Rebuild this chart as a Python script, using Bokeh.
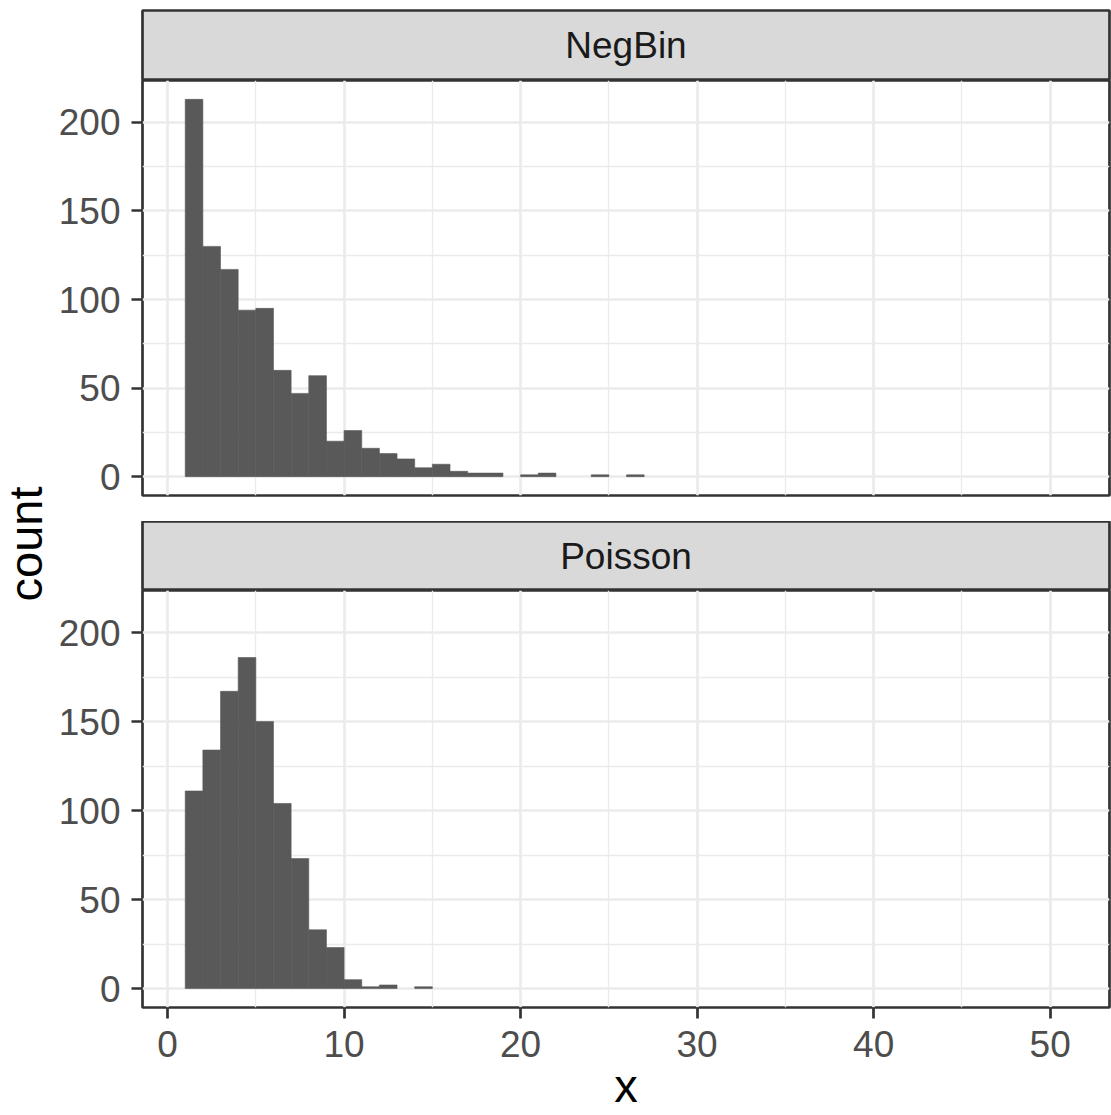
import math
from bokeh.plotting import figure
from bokeh.layouts import row, column
from bokeh.models import FixedTicker, Range1d, ColumnDataSource, Grid
from bokeh.core.properties import value
from bokeh.embed import file_html
from bokeh.resources import INLINE

# ---- data (histogram counts, binwidth 1, first bin starts at x = 1) ----
facet_labels = ["NegBin", "Poisson"]
negbin_counts = [213, 130, 117, 94, 95, 60, 47, 57, 20, 26, 16, 13, 10, 5, 7, 3,
                 2, 2, 0, 1, 2, 0, 0, 1, 0, 1]
poisson_counts = [111, 134, 167, 186, 150, 104, 73, 33, 23, 5, 1, 2, 0, 1]
bin_start = 1
bin_width = 1
x_ticks = [0, 10, 20, 30, 40, 50]
x_minor = [5, 15, 25, 35, 45]
y_ticks = [0, 50, 100, 150, 200]
y_minor = [25, 75, 125, 175]
x_title = "x"
y_title = "count"

FONT = "Liberation Sans"
GRID = "#EBEBEB"
DARK = "#333333"
BAR = "#595959"

LEFT_W = 54
FIG_W = 1111 - LEFT_W
MB_LEFT = 142 - LEFT_W
MB_RIGHT = 2

x_range = Range1d(-1.42, 53.36)
ymax = max(max(negbin_counts), max(poisson_counts))
y_range = Range1d(-0.05 * ymax, 1.05 * ymax)


def add_grids(p):
    p.center = [r for r in p.center if not isinstance(r, Grid)]
    gx = Grid(dimension=0, ticker=FixedTicker(ticks=x_ticks, minor_ticks=x_minor))
    gy = Grid(dimension=1, ticker=FixedTicker(ticks=y_ticks, minor_ticks=y_minor))
    for g in (gx, gy):
        g.grid_line_color = GRID
        g.grid_line_width = 2.7
        g.minor_grid_line_color = GRID
        g.minor_grid_line_width = 1.35
        p.add_layout(g, "center")


def style_axis(ax):
    ax.axis_line_color = None
    ax.major_tick_line_color = DARK
    ax.major_tick_line_width = 2.7
    ax.major_tick_out = 11
    ax.major_tick_in = 0
    ax.minor_tick_line_color = None
    ax.major_label_text_font = FONT
    ax.major_label_text_font_size = "37px"
    ax.major_label_text_color = "#4D4D4D"


def panel(counts, height, bottom, show_x):
    p = figure(width=FIG_W, height=height, x_range=x_range, y_range=y_range,
               output_backend="svg", toolbar_location=None, tools="",
               x_axis_location="below" if show_x else None,
               y_axis_location="left",
               min_border_left=MB_LEFT, min_border_right=MB_RIGHT,
               min_border_top=0, min_border_bottom=bottom)
    add_grids(p)
    left = [bin_start + i * bin_width for i in range(len(counts)) if counts[i] > 0]
    top = [c for c in counts if c > 0]
    right = [l + bin_width for l in left]
    src = ColumnDataSource(dict(left=left, right=right, top=top,
                                bottom=[0] * len(top)))
    p.quad(left="left", right="right", top="top", bottom="bottom", source=src,
           fill_color=BAR, line_color=BAR, line_width=0.6)
    p.yaxis.ticker = FixedTicker(ticks=y_ticks)
    p.yaxis.major_label_standoff = 11
    style_axis(p.yaxis[0])
    if show_x:
        ax = p.xaxis[0]
        ax.ticker = FixedTicker(ticks=x_ticks)
        ax.major_label_standoff = 12
        style_axis(ax)
        ax.axis_label = x_title
        ax.axis_label_text_font = FONT
        ax.axis_label_text_font_size = "47px"
        ax.axis_label_text_font_style = "normal"
        ax.axis_label_text_color = "black"
        ax.axis_label_standoff = -1
    p.outline_line_color = DARK
    p.outline_line_width = 2.7
    p.background_fill_color = "white"
    p.border_fill_color = "white"
    return p


def strip(label, height, top):
    s = figure(width=FIG_W, height=height, x_range=Range1d(0, 1), y_range=Range1d(0, 1),
               output_backend="svg", toolbar_location=None, tools="",
               x_axis_location=None, y_axis_location=None,
               min_border_left=MB_LEFT, min_border_right=MB_RIGHT,
               min_border_top=top, min_border_bottom=0)
    s.center = [r for r in s.center if not isinstance(r, Grid)]
    s.background_fill_color = "#D9D9D9"
    s.border_fill_color = "white"
    s.outline_line_color = DARK
    s.outline_line_width = 2.7
    s.text(x=[0.5], y=[0.5], text=[label], text_align="center", text_baseline="middle",
           text_font=value(FONT), text_font_size="37px", text_color="#1A1A1A")
    return s


strip1 = strip(facet_labels[0], 80, 10)
panel1 = panel(negbin_counts, 441, 26, False)
strip2 = strip(facet_labels[1], 69, 0)
panel2 = panel(poisson_counts, 1115 - 80 - 441 - 69, 108, True)

# y title spanning both panels
yf = figure(width=LEFT_W, height=1115, x_range=Range1d(0, LEFT_W), y_range=Range1d(0, 1115),
            output_backend="svg", toolbar_location=None, tools="",
            x_axis_location=None, y_axis_location=None,
            min_border_left=0, min_border_right=0, min_border_top=0, min_border_bottom=0)
yf.center = [r for r in yf.center if not isinstance(r, Grid)]
yf.outline_line_color = None
yf.text(x=[24.5], y=[1115 - 543.5], text=[y_title], angle=math.pi / 2, text_align="center",
        text_baseline="middle", text_font=value(FONT), text_font_size="47px",
        text_color="black")

layout = row(yf, column(strip1, panel1, strip2, panel2))

open("out.html", "w").write(file_html(layout, INLINE))
